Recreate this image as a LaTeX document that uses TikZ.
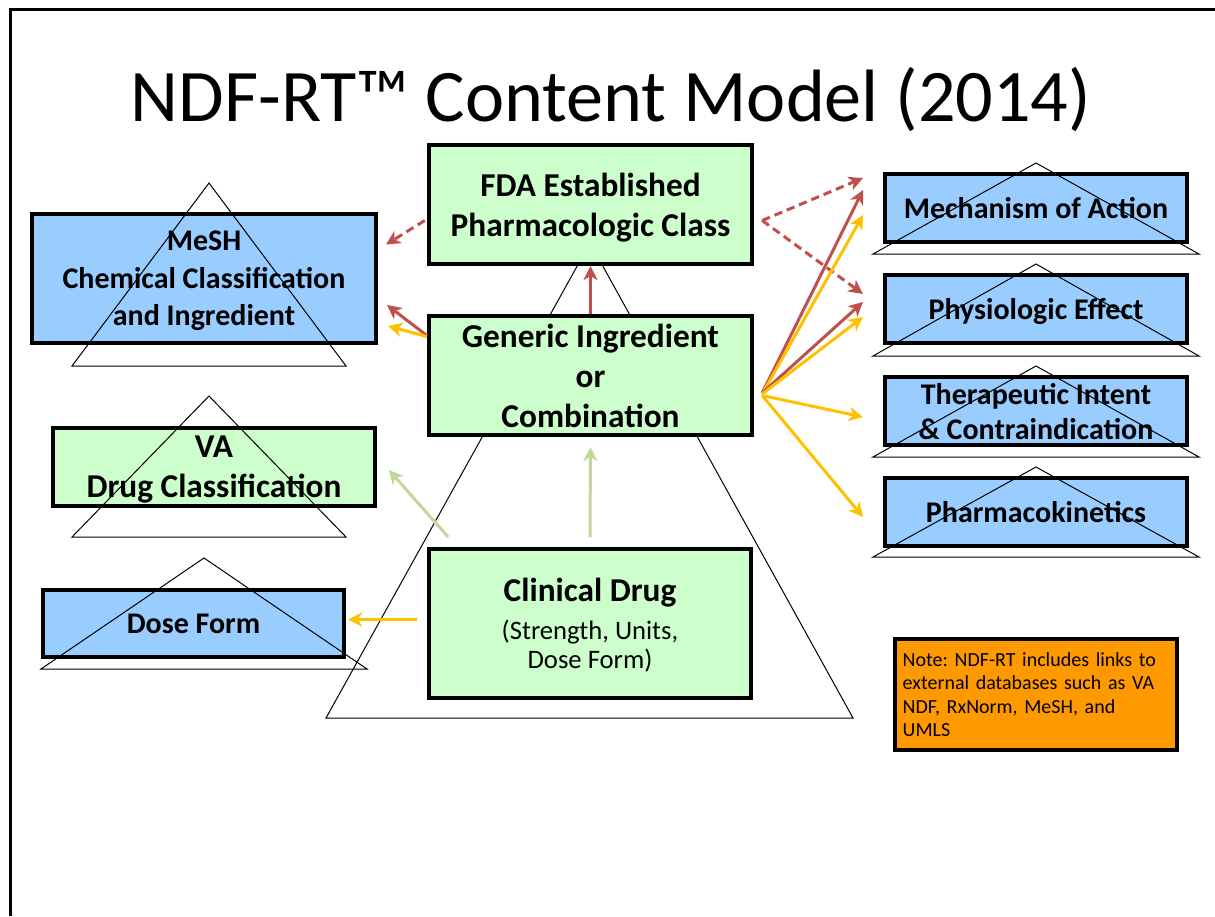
\documentclass[tikz,border=0pt]{standalone}
\usepackage{fontspec}
\setmainfont{Carlito}
\usepackage{tikz}
\usetikzlibrary{arrows.meta,positioning}
\definecolor{boxblue}{HTML}{99CCFF}
\definecolor{boxgreen}{HTML}{CCFFCC}
\definecolor{noteorange}{HTML}{FF9900}
\definecolor{linkred}{HTML}{C0504D}
\definecolor{linkyellow}{HTML}{FFC000}
\definecolor{linkgreen}{HTML}{C3D69B}
\frenchspacing

\begin{document}
\begin{tikzpicture}[
  x=0.6pt, y=-0.6pt,
  greenbox/.style={
    rectangle, draw=black, fill=boxgreen, line width=2.4pt,
    align=center, inner sep=0pt, text depth=0pt,
    font=\bfseries\fontsize{20}{24}\selectfont
  },
  bluebox/.style={
    rectangle, draw=black, fill=boxblue, line width=2.4pt,
    align=center, inner sep=0pt, text depth=0pt,
    font=\bfseries\fontsize{18}{22.5}\selectfont
  },
  notebox/.style={
    rectangle, draw=black, fill=noteorange, line width=2.4pt,
    text width=160pt, align=left, inner xsep=4.6pt,
    font=\fontsize{12}{14}\selectfont
  },
  tri/.style={draw=black, line width=0.6pt},
  link/.style={-{Stealth[length=8.5pt, width=8.5pt, inset=2.5pt]}, line width=1.8pt},
  redarr/.style={link, linkred},
  yelarr/.style={link, linkyellow},
  grnarr/.style={link, linkgreen},
  dashlink/.style={dash pattern=on 5pt off 3pt},
]
\useasboundingbox (0,0) rectangle (1215,916);

% ── Frame and title ──
\draw[line width=1.8pt] (10,916) -- (10,10) -- (1215,10);
\node[anchor=base, font=\fontsize{44.5}{52}\selectfont] (title) at (611,122)
  {NDF-RT™ Content Model (2014)};

% ── Central pyramid ──
\draw[tri] (590,243) -- (326,718) -- (853,718) -- cycle;

% ── Nodes ──
\node[greenbox, minimum width=194pt, minimum height=71.4pt] (fda) at (590.5,204.5)
  {FDA Established\\Pharmacologic Class};

\node[greenbox, minimum width=194pt, minimum height=71.4pt] (generic) at (590.5,375.5)
  {Generic Ingredient\\or\\Combination};

\node[greenbox, minimum width=193pt, minimum height=89.4pt] (clinical) at (590,623.5)
  {Clinical Drug\\[-1pt]{\mdseries\fontsize{16}{19}\selectfont (Strength, Units,}\\[-6.5pt]
   {\mdseries\fontsize{16}{19}\selectfont Dose Form)}};

\node[bluebox, minimum width=206.4pt, minimum height=77.4pt] (mesh) at (204,278.5)
  {MeSH\\Chemical Classification\\and Ingredient};

\node[greenbox, minimum width=193pt, minimum height=46.8pt] (va) at (214,467)
  {VA\\Drug Classification};

\node[bluebox, minimum width=180.6pt, minimum height=40.2pt] (dose) at (193.5,623.5)
  {Dose Form};

\node[bluebox, minimum width=181.2pt, minimum height=40.8pt] (mech) at (1036,208)
  {Mechanism of Action};
\node[bluebox, minimum width=181.2pt, minimum height=40.8pt] (phys) at (1036,309)
  {Physiologic Effect};
\node[bluebox, minimum width=181.2pt, minimum height=40.8pt] (ther) at (1036,411)
  {Therapeutic Intent\\[-1.5pt]\& Contraindication};
\node[bluebox, minimum width=181.2pt, minimum height=40.8pt] (pk) at (1036,512)
  {Pharmacokinetics};

\node[notebox, minimum height=66.6pt] (note) at (1036,694.5)
  {Note: NDF-RT includes links to\\external databases such as VA\\NDF, RxNorm, MeSH, and\\UMLS};

% ── Small pyramids ──
\draw[tri] (209,183) -- (72,366) -- (346,366) -- cycle;
\draw[tri] (209,396) -- (72,537) -- (346,537) -- cycle;
\draw[tri] (204,558) -- (41,669) -- (367,669) -- cycle;
\foreach \ty/\by in {163/254, 264/356, 366/457, 467/557}
  \draw[tri] (1036,\ty) -- (873,\by) -- (1199,\by) -- cycle;

% ── Edges ──
\draw[redarr, dashlink] ([shift={(-2,16)}]fda.west) -- ([shift={(8,-34)}]mesh.east);
\draw[redarr] ([shift={(0,-40)}]generic.west) -- ([shift={(9,26.5)}]mesh.east);
\draw[yelarr] ([shift={(0,-39)}]generic.west) -- ([shift={(10,47.5)}]mesh.east);
\draw[redarr] (generic.north) -- (fda.south);

\draw[redarr, dashlink] ([shift={(8,16)}]fda.east) -- ([shift={(-20,-30)}]mech.west);
\draw[redarr, dashlink] ([shift={(8,16)}]fda.east) -- ([shift={(-20,-15)}]phys.west);
\draw[redarr] ([shift={(8,17.5)}]generic.east) -- ([shift={(-20,-18)}]mech.west);
\draw[yelarr] ([shift={(8,18.5)}]generic.east) -- ([shift={(-20,7)}]mech.west);
\draw[redarr] ([shift={(8,17.5)}]generic.east) -- ([shift={(-20,-7)}]phys.west);
\draw[yelarr] ([shift={(8,18.5)}]generic.east) -- ([shift={(-20,8)}]phys.west);
\draw[yelarr] ([shift={(8,20)}]generic.east) -- ([shift={(-20,6)}]ther.west);
\draw[yelarr] ([shift={(8,20)}]generic.east) -- ([shift={(-20,5)}]pk.west);

\draw[grnarr] ([shift={(0,-10)}]clinical.north) -- ([shift={(0,10)}]generic.south);
\draw[grnarr] ([shift={(21,-10)}]clinical.north west) -- ([shift={(12,3)}]va.east);
\draw[yelarr] ([shift={(-10,-4)}]clinical.west) -- ([shift={(2,-4)}]dose.east);
\end{tikzpicture}
\end{document}
